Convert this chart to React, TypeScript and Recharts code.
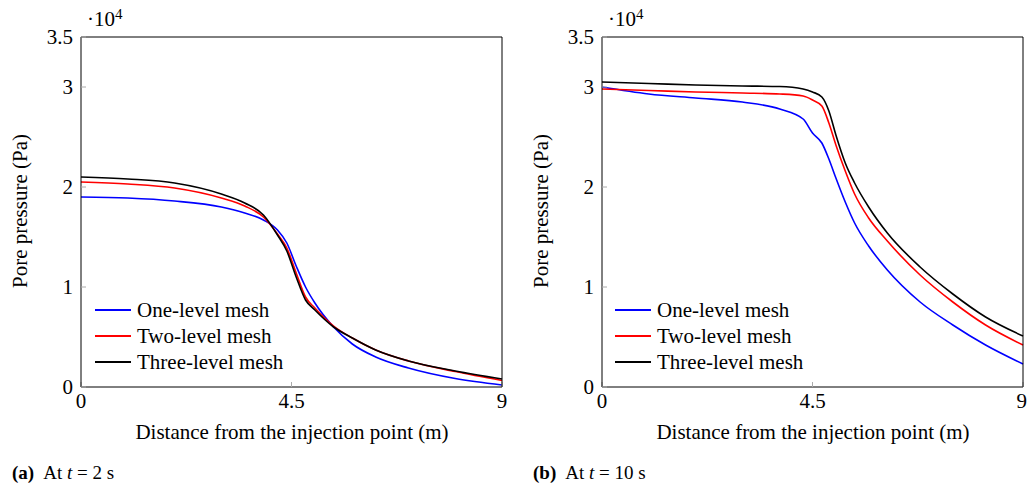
import { LineChart, Line, XAxis, YAxis, Legend } from 'recharts';

// pore pressure in units of 10^4 Pa, distance in m

// (a) t = 2 s
const distA = [0, 1, 2, 3, 3.5, 3.9, 4.2, 4.4, 4.6, 4.8, 5.0, 5.4, 5.8, 6.3, 7.0, 8.0, 9.0];
const oneLevelA = [1.9, 1.89, 1.86, 1.8, 1.74, 1.67, 1.57, 1.44, 1.21, 1.0, 0.84, 0.6, 0.43, 0.3, 0.19, 0.085, 0.02];
const twoLevelA = [2.05, 2.03, 1.99, 1.89, 1.81, 1.7, 1.53, 1.39, 1.14, 0.9, 0.79, 0.61, 0.49, 0.37, 0.26, 0.155, 0.065];
const threeLevelA = [2.1, 2.08, 2.04, 1.93, 1.84, 1.72, 1.52, 1.36, 1.1, 0.87, 0.77, 0.6, 0.49, 0.37, 0.26, 0.16, 0.08];

// (b) t = 10 s
const distB = [0, 1, 2, 3, 3.8, 4.3, 4.5, 4.7, 4.85, 5.0, 5.2, 5.4, 5.7, 6.1, 6.8, 7.5, 8.2, 9.0];
const oneLevelB = [3.0, 2.93, 2.89, 2.85, 2.78, 2.68, 2.54, 2.44, 2.28, 2.09, 1.85, 1.64, 1.41, 1.17, 0.85, 0.62, 0.42, 0.23];
const twoLevelB = [2.98, 2.965, 2.95, 2.94, 2.93, 2.91, 2.87, 2.81, 2.64, 2.42, 2.16, 1.93, 1.69, 1.46, 1.12, 0.85, 0.62, 0.42];
const threeLevelB = [3.05, 3.035, 3.02, 3.01, 3.005, 2.98, 2.95, 2.9, 2.76, 2.52, 2.24, 2.04, 1.8, 1.54, 1.2, 0.93, 0.7, 0.51];

const xTicks = [0, 4.5, 9];
const yTicks = [0, 1, 2, 3, 3.5];
const seriesNames = ['One-level mesh', 'Two-level mesh', 'Three-level mesh'];
const seriesColors = ['#0000ff', '#ff0000', '#000000'];

const FONT = '"Liberation Serif", "Times New Roman", serif';

function MeshLegend({ payload }: any) {
  // keep the series order instead of the alphabetical one
  const items = [...(payload || [])].sort(
    (a: any, b: any) => seriesNames.indexOf(a.value) - seriesNames.indexOf(b.value)
  );
  return (
    <div style={{ fontFamily: FONT, fontSize: 21, color: '#000' }}>
      {items.map((p: any) => (
        <div key={p.value} style={{ display: 'flex', alignItems: 'center', height: 26 }}>
          <span style={{ display: 'inline-block', width: 36, borderTop: `2px solid ${p.color}`, marginRight: 6 }} />
          <span style={{ lineHeight: 1 }}>{p.value}</span>
        </div>
      ))}
    </div>
  );
}

function Panel({ dist, series, width, left, right }: { dist: number[]; series: number[][]; width: number; left: number; right: number }) {
  const rows = dist.map((d, i) => ({ d, s0: series[0][i], s1: series[1][i], s2: series[2][i] }));
  const tickStyle = { fontFamily: FONT, fontSize: 21, fill: '#000' };
  return (
    <LineChart width={width} height={486} data={rows} margin={{ top: 36, left, right, bottom: 98 }}>
      <XAxis
        dataKey="d"
        type="number"
        domain={[0, 9]}
        ticks={xTicks}
        height={1}
        tickSize={-5}
        tickMargin={11}
        tick={tickStyle}
        axisLine={{ stroke: '#000' }}
        tickLine={{ stroke: '#aaa' }}
      />
      <XAxis
        xAxisId="top"
        orientation="top"
        type="number"
        domain={[0, 9]}
        ticks={xTicks}
        height={1}
        tickSize={-5}
        tick={false}
        axisLine={{ stroke: '#000' }}
        tickLine={{ stroke: '#aaa' }}
      />
      <YAxis
        type="number"
        domain={[0, 3.5]}
        ticks={yTicks}
        width={1}
        tickSize={-5}
        tickMargin={13}
        tick={tickStyle}
        axisLine={{ stroke: '#000' }}
        tickLine={{ stroke: '#aaa' }}
      />
      <YAxis
        yAxisId="right"
        orientation="right"
        type="number"
        domain={[0, 3.5]}
        ticks={yTicks}
        width={1}
        tickSize={-5}
        tick={false}
        axisLine={{ stroke: '#000' }}
        tickLine={{ stroke: '#aaa' }}
      />
      {seriesNames.map((name, i) => (
        <Line
          key={name}
          dataKey={`s${i}`}
          name={name}
          type="monotone"
          stroke={seriesColors[i]}
          strokeWidth={1.6}
          dot={false}
          isAnimationActive={false}
        />
      ))}
      <Legend
        layout="vertical"
        align="center"
        verticalAlign="middle"
        content={<MeshLegend />}
        wrapperStyle={{ left: 95, top: 297, width: 'auto' }}
      />
    </LineChart>
  );
}

function Text({ x, y, children, style }: any) {
  return (
    <div style={{ position: 'absolute', left: x, top: y, whiteSpace: 'nowrap', lineHeight: 1, fontFamily: FONT, ...style }}>
      {children}
    </div>
  );
}

export default function App() {
  return (
    <div style={{ position: 'absolute', left: 0, top: 0, width: 1027, height: 486, background: '#fff', overflow: 'hidden', color: '#000' }}>
      <div style={{ position: 'absolute', left: 0, top: 0 }}>
        <Panel dist={distA} series={[oneLevelA, twoLevelA, threeLevelA]} width={520} left={80} right={17} />
      </div>
      <div style={{ position: 'absolute', left: 520, top: 0 }}>
        <Panel dist={distB} series={[oneLevelB, twoLevelB, threeLevelB]} width={507} left={81} right={3} />
      </div>

      {/* scale factor */}
      <Text x={87} y={7} style={{ fontSize: 21 }}>
        ·10<sup style={{ fontSize: 15, verticalAlign: 7 }}>4</sup>
      </Text>
      <Text x={608} y={7} style={{ fontSize: 21 }}>
        ·10<sup style={{ fontSize: 15, verticalAlign: 7 }}>4</sup>
      </Text>

      {/* axis titles */}
      <Text x={20} y={211} style={{ fontSize: 21, transform: 'translate(-50%, -50%) rotate(-90deg)' }}>
        Pore pressure (Pa)
      </Text>
      <Text x={541} y={211} style={{ fontSize: 21, transform: 'translate(-50%, -50%) rotate(-90deg)' }}>
        Pore pressure (Pa)
      </Text>
      <Text x={292} y={432} style={{ fontSize: 21, transform: 'translate(-50%, -50%)' }}>
        Distance from the injection point (m)
      </Text>
      <Text x={813} y={432} style={{ fontSize: 21, transform: 'translate(-50%, -50%)' }}>
        Distance from the injection point (m)
      </Text>

      {/* captions */}
      <Text x={12} y={463} style={{ fontSize: 19 }}>
        <b>(a)</b>
        <span style={{ marginLeft: 9 }}>
          At <i>t</i> = 2 s
        </span>
      </Text>
      <Text x={533} y={463} style={{ fontSize: 19 }}>
        <b>(b)</b>
        <span style={{ marginLeft: 9 }}>
          At <i>t</i> = 10 s
        </span>
      </Text>
    </div>
  );
}
